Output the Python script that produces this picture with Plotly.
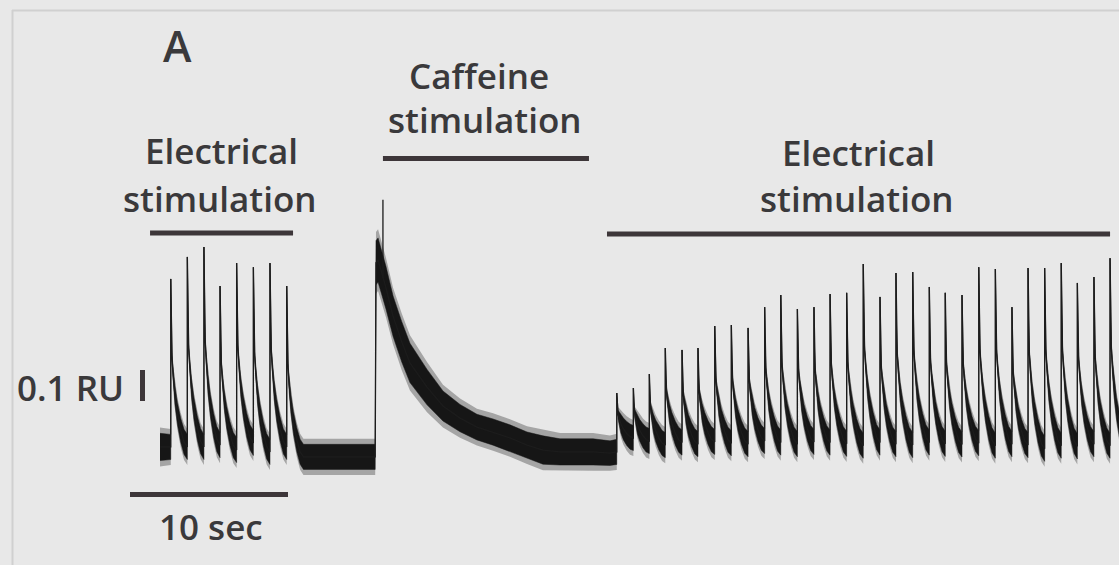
import plotly.graph_objects as go

# Fluorescence recording: time in s, signal in RU relative to the resting level.

# First train of electrical field stimulation
train1_start_t = 0.0
train1_spike_t = [0.68, 1.73, 2.78, 3.80, 4.85, 5.91, 6.96, 8.02]
train1_peak = [0.568, 0.639, 0.671, 0.545, 0.619, 0.606, 0.619, 0.545]
train1_pre = [0.026, 0.026, 0.026, 0.032, 0.016, 0.039, 0.010, 0.026]
rest_level = -0.006
rest_end_t = 13.62

# Caffeine-evoked transient (mid level and half-width of the noisy band)
caff_t = [13.67, 13.80, 14.30, 14.75, 15.30, 15.82, 16.90, 17.91, 18.99, 20.06,
          21.08, 22.15, 23.23, 24.24, 25.32, 26.39, 27.41, 28.48]
caff_mid = [0.620, 0.629, 0.540, 0.448, 0.365, 0.297, 0.219, 0.158, 0.119, 0.090,
            0.074, 0.055, 0.032, 0.016, 0.010, 0.010, 0.010, 0.006]
caff_halfwidth = [0.081, 0.081, 0.078, 0.074, 0.074, 0.072, 0.065, 0.055, 0.050, 0.047,
                  0.048, 0.048, 0.048, 0.052, 0.048, 0.048, 0.048, 0.045]
caff_spike_t = 14.11
caff_spike_base = 0.57
caff_spike_peak = 0.823

# Second train of electrical field stimulation
train2_spike_t = [28.91, 29.96, 30.97, 31.98, 33.04, 34.05, 35.11, 36.16,
                  37.22, 38.27, 39.29, 40.34, 41.39, 42.41, 43.46, 44.51,
                  45.57, 46.58, 47.64, 48.69, 49.70, 50.76, 51.82, 52.87,
                  53.92, 54.94, 55.99, 57.04, 58.06, 59.11, 60.13]
train2_peak = [0.200, 0.216, 0.261, 0.345, 0.339, 0.345, 0.416, 0.419,
               0.410, 0.477, 0.516, 0.471, 0.477, 0.519, 0.523, 0.616,
               0.510, 0.587, 0.590, 0.542, 0.523, 0.516, 0.606, 0.600,
               0.477, 0.603, 0.603, 0.619, 0.555, 0.574, 0.635]
train2_pre = [0.010, 0.055, 0.045, 0.032, 0.040, 0.035, 0.042, 0.038,
              0.035, 0.045, 0.040, 0.035, 0.042, 0.040, 0.036, 0.030,
              0.040, 0.035, 0.032, 0.040, 0.036, 0.034, 0.038, 0.030,
              0.035, 0.032, 0.020, 0.030, 0.028, 0.035, 0.030]
train2_end_level = 0.030

# Shape of one twitch transient: fraction of the inter-stimulus interval,
# fraction of the amplitude still remaining, and half-width of the noise band
twitch_frac_t = [0.0, 0.03, 0.08, 0.15, 0.25, 0.40, 0.60, 0.80, 1.0]
twitch_frac_amp = [1.0, 0.70, 0.52, 0.42, 0.31, 0.20, 0.10, 0.03, 0.0]
twitch_halfwidth = [0.0, 0.006, 0.016, 0.026, 0.034, 0.040, 0.044, 0.046, 0.046]

# Stimulation periods (s) and their labels
stim_periods = [(-0.63, 8.42), (14.11, 27.15), (28.29, 60.13)]
stim_labels = [("Electrical", "stimulation"), ("Caffeine", "stimulation"),
               ("Electrical", "stimulation")]

# Scale bars
time_bar_s = 10
amp_bar_ru = 0.1

# ---------------------------------------------------------------------------
W, H = 1119, 565
X_RANGE = [-10.127, 60.696]
Y_RANGE = [-0.3548, 1.4677]
INK = "#161616"
BAR = "#3d3639"
TEXT = "#3a393b"
FONT = "Open Sans"


def train_points(spike_t, peak, pre, end_level):
    """(t, mid, half-width) samples of a train of twitch transients."""
    pts = [(spike_t[0], pre[0], twitch_halfwidth[-1])]
    for i, ts in enumerate(spike_t):
        if i + 1 < len(spike_t):
            period = spike_t[i + 1] - ts
            target = pre[i + 1]
        else:
            period = ts - spike_t[i - 1]
            target = end_level
        for f, a, hw in zip(twitch_frac_t, twitch_frac_amp, twitch_halfwidth):
            pts.append((ts + f * period, target + (peak[i] - target) * a, hw))
    return pts


pts = [(train1_start_t, train1_pre[0], 0.050)]
pts += train_points(train1_spike_t, train1_peak, train1_pre, rest_level)
pts.append((rest_end_t, rest_level, twitch_halfwidth[-1]))
pts += list(zip(caff_t, caff_mid, caff_halfwidth))
pts += train_points(train2_spike_t, train2_peak, train2_pre, train2_end_level)


def band(scale, pad):
    xs = [p[0] for p in pts] + [p[0] for p in reversed(pts)]
    ys = ([p[1] + p[2] * scale + pad * (p[2] > 0) for p in pts]
          + [p[1] - p[2] * scale - pad * (p[2] > 0) for p in reversed(pts)])
    return xs, ys


fig = go.Figure()
# faint outer fringe of the noisy band
ox, oy = band(1.18, 0.004)
fig.add_trace(go.Scatter(x=ox, y=oy, mode="lines", fill="toself",
                         fillcolor="rgba(40,40,40,0.35)", line=dict(width=0),
                         hoverinfo="skip", showlegend=False))
# dense core of the band
ix, iy = band(0.88, 0.0)
fig.add_trace(go.Scatter(x=ix, y=iy, mode="lines", fill="toself",
                         fillcolor=INK, line=dict(color=INK, width=0.5),
                         hoverinfo="skip", showlegend=False))

line_x = [p[0] for p in pts] + [None, caff_spike_t, caff_spike_t]
line_y = [p[1] for p in pts] + [None, caff_spike_base, caff_spike_peak]
fig.add_trace(go.Scatter(x=line_x, y=line_y, mode="lines",
                         line=dict(color="#1c1c1c", width=1.3),
                         hoverinfo="skip", showlegend=False))


def px_x(x):
    return X_RANGE[0] + (X_RANGE[1] - X_RANGE[0]) * x / W


def px_y(y):
    return Y_RANGE[1] - (Y_RANGE[1] - Y_RANGE[0]) * y / H


shapes = []
# panel frame
shapes.append(dict(type="line", xref="paper", yref="paper", x0=12.5 / W, x1=12.5 / W,
                   y0=0, y1=1 - 10 / H, line=dict(color="#d0d0d0", width=2)))
shapes.append(dict(type="line", xref="paper", yref="paper", x0=12 / W, x1=1,
                   y0=1 - 10.5 / H, y1=1 - 10.5 / H, line=dict(color="#d0d0d0", width=2)))

# stimulation bars
bar_rows = [233, 158.5, 234]
for (t0, t1), row in zip(stim_periods, bar_rows):
    shapes.append(dict(type="line", x0=t0, x1=t1, y0=px_y(row), y1=px_y(row),
                       line=dict(color=BAR, width=5)))

# scale bars
tb0 = px_x(130)
shapes.append(dict(type="line", x0=tb0, x1=tb0 + time_bar_s, y0=px_y(494.5), y1=px_y(494.5),
                   line=dict(color=BAR, width=5)))
ab0 = px_y(401)
shapes.append(dict(type="line", x0=px_x(142.5), x1=px_x(142.5), y0=ab0, y1=ab0 + amp_bar_ru,
                   line=dict(color=BAR, width=5)))

annotations = []


def label(text, x, y, size=35):
    annotations.append(dict(text=text, xref="paper", yref="paper", x=x / W, y=1 - y / H,
                            xanchor="center", yanchor="middle", showarrow=False,
                            font=dict(family=FONT, size=size, color=TEXT, weight=600)))


label("A", 177, 46, 43)
label_cols = [(221, 219.5), (479, 484.5), (858.5, 857)]
label_rows = [(151, 199), (76, 119), (152, 199)]
for (l1, l2), (cx1, cx2), (ry1, ry2) in zip(stim_labels, label_cols, label_rows):
    label(l1, cx1, ry1)
    label(l2, cx2, ry2)
label(f"{amp_bar_ru:g} RU", 70, 387)
label(f"{time_bar_s} sec", 211.5, 526)

fig.update_layout(
    width=W, height=H, margin=dict(l=0, r=0, t=0, b=0),
    paper_bgcolor="#e8e8e8", plot_bgcolor="#e8e8e8",
    xaxis=dict(range=X_RANGE, visible=False, fixedrange=True),
    yaxis=dict(range=Y_RANGE, visible=False, fixedrange=True),
    shapes=shapes, annotations=annotations,
)

fig.write_html("out.html")
